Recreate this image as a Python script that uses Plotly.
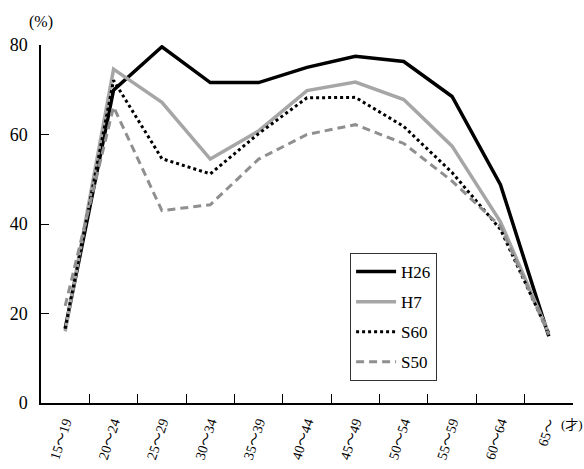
import plotly.graph_objects as go

categories = ["15～19", "20～24", "25～29", "30～34", "35～39", "40～44",
              "45～49", "50～54", "55～59", "60～64", "65～"]
h26 = [16.6, 69.9, 79.6, 71.6, 71.6, 75.0, 77.5, 76.3, 68.5, 48.8, 14.9]
h7 = [16.0, 74.6, 67.2, 54.5, 60.8, 69.8, 71.7, 67.8, 57.4, 40.5, 15.6]
s60 = [16.6, 72.1, 54.6, 51.2, 60.2, 68.2, 68.3, 61.8, 51.5, 38.8, 15.5]
s50 = [21.7, 66.2, 43.0, 44.3, 54.5, 60.0, 62.2, 58.0, 49.6, 39.5, 15.3]
y_ticks = [0, 20, 40, 60, 80]

FONT = "'Liberation Serif', 'DejaVu Serif', 'Noto Sans CJK JP', serif"

series = [
    ("H26", h26, dict(color="#000000", width=3.5, dash="solid")),
    ("H7", h7, dict(color="#a6a6a6", width=3.5, dash="solid")),
    ("S60", s60, dict(color="#000000", width=3, dash="3px,3px")),
    ("S50", s50, dict(color="#8f8f8f", width=3, dash="8px,5px")),
]

fig = go.Figure()
for name, vals, line in series:
    fig.add_trace(go.Scatter(x=categories, y=vals, mode="lines", name=name,
                             line=line, legendgroup=name))

fig.update_layout(
    width=584, height=469,
    margin=dict(l=41, r=11, t=45, b=66),
    paper_bgcolor="white", plot_bgcolor="white",
    font=dict(family=FONT, color="#000000", size=16),
    showlegend=True,
    legend=dict(x=0.581, y=0.419, xanchor="left", yanchor="top",
                bordercolor="#333333", borderwidth=1, bgcolor="white",
                font=dict(family=FONT, size=17), tracegroupgap=5,
                itemwidth=40),
)
fig.update_xaxes(
    type="category", range=[-0.5, 10.5], tickson="boundaries",
    ticks="inside", ticklen=9, tickcolor="#000000", tickwidth=1,
    showline=True, linecolor="#000000", linewidth=1.5,
    showgrid=False, zeroline=False, tickangle=-72, automargin=False,
    tickfont=dict(family=FONT, size=14), ticklabelstandoff=4,
)
fig.update_yaxes(
    range=[0, 80], tickvals=y_ticks, ticks="inside", ticklen=8,
    tickcolor="#000000", tickwidth=1, automargin=False,
    showline=True, linecolor="#000000", linewidth=1.5,
    showgrid=False, zeroline=False, ticklabelstandoff=8,
    tickfont=dict(family=FONT, size=18),
)
fig.add_annotation(text="(%)", xref="paper", yref="paper", x=0.0, y=1.064,
                   showarrow=False, font=dict(family=FONT, size=16),
                   xanchor="center", yanchor="middle")
fig.add_annotation(text="(才)", xref="paper", yref="paper", x=0.974, y=-0.061,
                   showarrow=False, font=dict(family=FONT, size=13),
                   xanchor="left", yanchor="middle")

fig.write_html("out.html")
